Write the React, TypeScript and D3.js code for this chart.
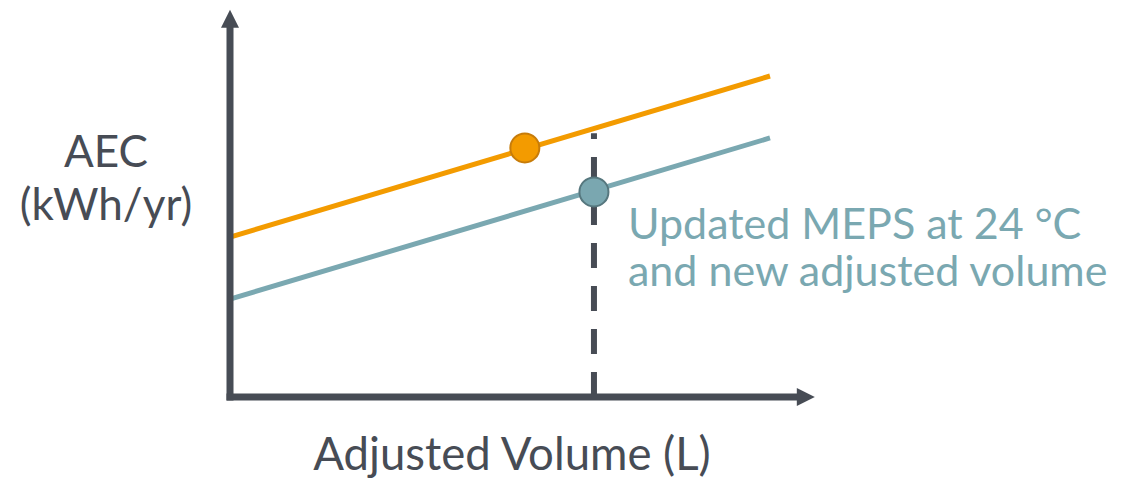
import React from "react";
import * as d3 from "d3";

const W = 1133;
const H = 481;

// data (arbitrary units read from the schematic)
const lineNames = ["Current MEPS", "Updated MEPS"];
const lineX = [0, 100];
const orangeY = [49.8, 100];
const tealY = [30.5, 80.7];
const pointNames = ["current", "updated"];
const pointX = [54.6, 67.4];
const pointY = [77.6, 63.9];
const dashX = 67.4;
const dashTop = 82.2;
const axisMaxX = 108.3;
const axisMaxY = 120.6;
const yLabelLines = ["AEC", "(kWh/yr)"];
const xLabel = "Adjusted Volume (L)";
const noteLines = ["Updated MEPS at 24 °C", "and new adjusted volume"];

const FONT = "Lato, sans-serif";
const DARK = "#474c55";
const ORANGE = "#f39b00";
const TEAL = "#7aa8b1";

export default function App() {
  const x = d3.scaleLinear().domain([0, 100]).range([230, 770]);
  const y = d3.scaleLinear().domain([0, 100]).range([397, 76]);
  const line = d3
    .line<[number, number]>()
    .x((d) => x(d[0]))
    .y((d) => y(d[1]));

  const series = [
    { name: lineNames[0], ys: orangeY, color: ORANGE },
    { name: lineNames[1], ys: tealY, color: TEAL },
  ];
  const points = [
    { name: pointNames[0], fill: ORANGE, stroke: "#c77c0a" },
    { name: pointNames[1], fill: "#7aa7b0", stroke: "#56777e" },
  ];

  const x0 = x(0);
  const y0 = y(0);
  const xEnd = x(axisMaxX);
  const yEnd = y(axisMaxY);
  const head = 18;
  const half = 9;

  return (
    <svg
      width={W}
      height={H}
      style={{ position: "absolute", left: 0, top: 0, background: "#fff" }}
    >
      {/* dashed reference line */}
      <line
        x1={x(dashX)}
        x2={x(dashX)}
        y1={y0}
        y2={y(dashTop)}
        stroke={DARK}
        strokeWidth={6}
        strokeDasharray="25 18"
      />
      {/* series lines */}
      {series.map((s) => (
        <path
          key={s.name}
          d={line(lineX.map((v, i) => [v, s.ys[i]]) as [number, number][]) || ""}
          fill="none"
          stroke={s.color}
          strokeWidth={5}
        />
      ))}
      {/* axes */}
      <line x1={x0} x2={x0} y1={y0 + 3.5} y2={yEnd + head - 1} stroke={DARK} strokeWidth={7} />
      <path
        d={`M${x0},${yEnd} L${x0 - half},${yEnd + head} L${x0 + half},${yEnd + head} Z`}
        fill={DARK}
      />
      <line x1={x0 - 3.5} x2={xEnd - head + 1} y1={y0} y2={y0} stroke={DARK} strokeWidth={7} />
      <path
        d={`M${xEnd},${y0} L${xEnd - head},${y0 - half} L${xEnd - head},${y0 + half} Z`}
        fill={DARK}
      />
      {/* points */}
      {points.map((p, i) => (
        <circle
          key={p.name}
          cx={x(pointX[i])}
          cy={y(pointY[i])}
          r={14.5}
          fill={p.fill}
          stroke={p.stroke}
          strokeWidth={2}
        />
      ))}
      {/* y label */}
      <text fontFamily={FONT} fontSize={44} fill={DARK} textAnchor="middle">
        <tspan x={106} y={167}>{yLabelLines[0]}</tspan>
        <tspan x={106} y={220}>{yLabelLines[1]}</tspan>
      </text>
      {/* x label */}
      <text fontFamily={FONT} fontSize={45.5} fill={DARK} textAnchor="middle" x={512} y={470}>
        {xLabel}
      </text>
      {/* note */}
      <text fontFamily={FONT} fontSize={43} fill={TEAL} x={628} y={239}>
        {noteLines[0]}
      </text>
      <text fontFamily={FONT} fontSize={43} fill={TEAL} x={628} y={286}>
        {noteLines[1]}
      </text>
    </svg>
  );
}
